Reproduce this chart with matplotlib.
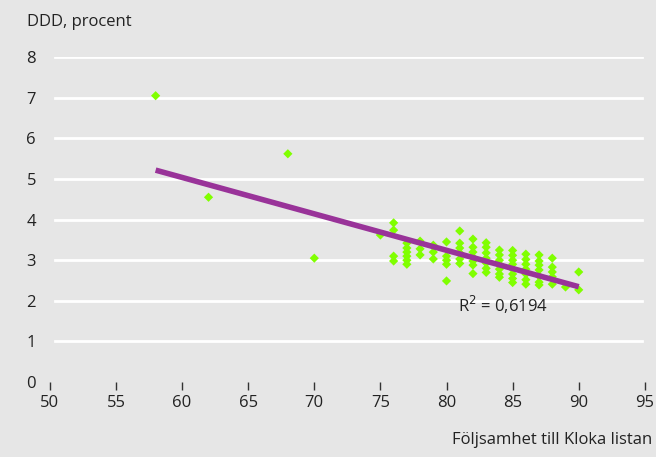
import numpy as np
import matplotlib.pyplot as plt

plt.rcParams['font.family'] = ['Open Sans', 'DejaVu Sans']

# Följsamhet (x) och DDD (y)
x_vals = [58, 62, 68, 70,
          75,
          76, 76, 76, 76,
          77, 77, 77, 77, 77, 77,
          78, 78, 78,
          79, 79, 79,
          80, 80, 80, 80, 80,
          81, 81, 81, 81, 81, 81,
          82, 82, 82, 82, 82, 82, 82,
          83, 83, 83, 83, 83, 83, 83,
          84, 84, 84, 84, 84, 84, 84,
          85, 85, 85, 85, 85, 85, 85, 85,
          86, 86, 86, 86, 86, 86, 86,
          87, 87, 87, 87, 87, 87, 87,
          88, 88, 88, 88, 88,
          89,
          90, 90]
y_vals = [7.05, 4.55, 5.62, 3.05,
          3.62,
          3.92, 3.74, 3.10, 2.98,
          3.42, 3.30, 3.20, 3.10, 3.00, 2.90,
          3.47, 3.28, 3.13,
          3.37, 3.20, 3.03,
          3.45, 3.10, 3.00, 2.90, 2.49,
          3.72, 3.42, 3.30, 3.18, 3.03, 2.92,
          3.52, 3.32, 3.20, 3.08, 2.98, 2.88, 2.67,
          3.43, 3.32, 3.18, 3.05, 2.93, 2.80, 2.70,
          3.25, 3.13, 3.00, 2.90, 2.78, 2.66, 2.58,
          3.24, 3.12, 3.00, 2.90, 2.78, 2.66, 2.55, 2.45,
          3.15, 3.02, 2.90, 2.78, 2.66, 2.52, 2.41,
          3.13, 2.98, 2.88, 2.76, 2.61, 2.46, 2.39,
          3.05, 2.83, 2.71, 2.59, 2.41,
          2.34,
          2.71, 2.27]

# trendlinje: y = a + b*x
trend_a = 10.42
trend_b = -0.0897
trend_x = [58, 90]
r2_text = 'R$^2$ = 0,6194'

bg = '#e6e6e6'
fig = plt.figure(figsize=(6.56, 4.57), dpi=100, facecolor=bg)
ax = fig.add_axes([0.076, 0.164, 0.907, 0.711], facecolor=bg)

for yv in range(1, 9):
    ax.axhline(yv, xmin=0.008, xmax=0.995, color='white', lw=2, zorder=1)

ax.scatter(x_vals, y_vals, marker='D', s=22, color='#80ff00', edgecolors='none', zorder=3)
tx = np.array(trend_x)
ax.plot(tx, trend_a + trend_b * tx, color='#993399', lw=4, solid_capstyle='butt', zorder=4)

ax.text(80.9, 1.9, r2_text, fontsize=12, color='#222222', va='center', ha='left', zorder=5)

ax.set_xlim(50, 95)
ax.set_ylim(0, 8)
ax.set_xticks(range(50, 96, 5))
ax.set_yticks(range(0, 9))
for s in ax.spines.values():
    s.set_visible(False)
ax.tick_params(axis='x', direction='out', length=6, width=1, color='#333333',
               labelsize=12, labelcolor='#222222', pad=3)
ax.tick_params(axis='y', length=0, labelsize=12, labelcolor='#222222', pad=10)

fig.text(0.041, 0.952, 'DDD, procent', fontsize=12, color='#222222', ha='left', va='center')
fig.text(0.994, 0.037, 'Följsamhet till Kloka listan', fontsize=12, color='#222222',
         ha='right', va='center')

fig.savefig('out.png', dpi=100, facecolor=bg)
